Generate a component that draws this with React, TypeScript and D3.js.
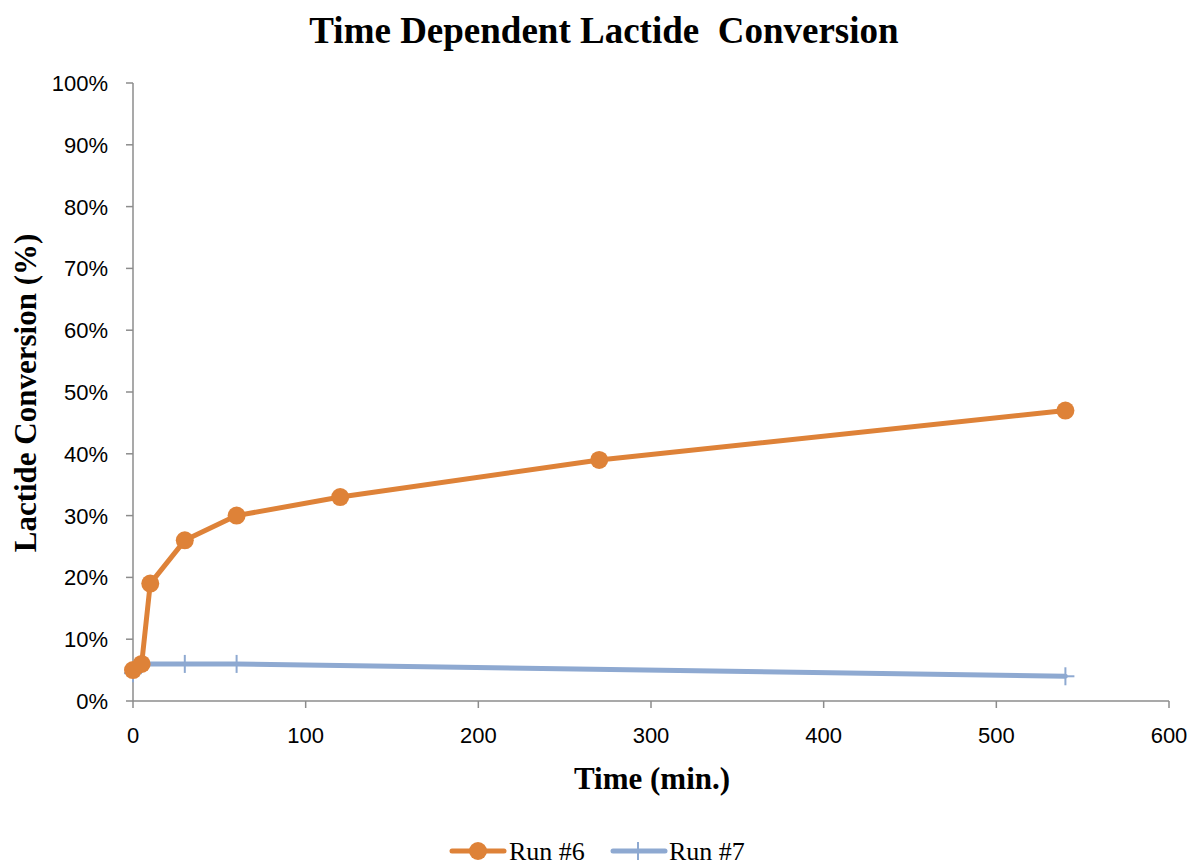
import React from "react";
import * as d3 from "d3";

const run6Time = [0, 5, 10, 30, 60, 120, 270, 540];
const run6Conv = [5, 6, 19, 26, 30, 33, 39, 47];
const run7Time = [0, 5, 30, 60, 540];
const run7Conv = [4.5, 6, 6, 6, 4];
const xTicks = [0, 100, 200, 300, 400, 500, 600];
const yTicks = [0, 10, 20, 30, 40, 50, 60, 70, 80, 90, 100];

const W = 1194, H = 863;
const ORANGE = "#DE8238";
const BLUE = "#8EA9D1";
const AXIS = "#8c8c8c";

export default function App() {
  const x = d3.scaleLinear().domain([0, 600]).range([133, 1169]);
  const y = d3.scaleLinear().domain([0, 100]).range([701, 83]);
  const line = d3.line<[number, number]>().x(d => x(d[0])).y(d => y(d[1]));
  const d6 = run6Time.map((t, i) => [t, run6Conv[i]] as [number, number]);
  const d7 = run7Time.map((t, i) => [t, run7Conv[i]] as [number, number]);
  const tickFont = "'Liberation Sans', Arial, sans-serif";
  const serif = "'Liberation Serif', 'Times New Roman', serif";
  return (
    <svg width={W} height={H} style={{ position: "absolute", left: 0, top: 0, background: "#fff" }}>
      <rect width={W} height={H} fill="#fff" />
      <text x={604} y={43} textAnchor="middle" fontFamily={serif} fontWeight="bold" fontSize={37} style={{ whiteSpace: "pre" }}>
        {"Time Dependent Lactide  Conversion"}
      </text>
      {/* Y axis */}
      <line x1={x(0)} x2={x(0)} y1={y(0)} y2={y(100)} stroke={AXIS} strokeWidth={1.5} />
      {yTicks.map(t => (
        <g key={"y" + t}>
          <line x1={x(0) - 7} x2={x(0)} y1={y(t)} y2={y(t)} stroke={AXIS} strokeWidth={1.5} />
          <text x={108} y={y(t) + 8} textAnchor="end" fontFamily={tickFont} fontSize={22}>{t}%</text>
        </g>
      ))}
      {/* X axis */}
      <line x1={x(0)} x2={x(600)} y1={y(0)} y2={y(0)} stroke={AXIS} strokeWidth={1.5} />
      {xTicks.map(t => (
        <g key={"x" + t}>
          <line x1={x(t)} x2={x(t)} y1={y(0)} y2={y(0) + 7} stroke={AXIS} strokeWidth={1.5} />
          <text x={x(t)} y={743} textAnchor="middle" fontFamily={tickFont} fontSize={22}>{t}</text>
        </g>
      ))}
      <text x={652} y={789} textAnchor="middle" fontFamily={serif} fontWeight="bold" fontSize={31}>Time (min.)</text>
      <text transform={`translate(36,${393}) rotate(-90)`} textAnchor="middle" fontFamily={serif} fontWeight="bold" fontSize={31}>
        Lactide Conversion (%)
      </text>
      {/* Run 7 */}
      <path d={line(d7) || ""} fill="none" stroke={BLUE} strokeWidth={5} strokeLinejoin="round" strokeLinecap="round" />
      {d7.map((p, i) => (
        <g key={"m7" + i} stroke={BLUE} strokeWidth={2}>
          <line x1={x(p[0])} x2={x(p[0])} y1={y(p[1]) - 9} y2={y(p[1]) + 9} />
          <line x1={x(p[0]) - 9} x2={x(p[0]) + 9} y1={y(p[1])} y2={y(p[1])} />
        </g>
      ))}
      {/* Run 6 */}
      <path d={line(d6) || ""} fill="none" stroke={ORANGE} strokeWidth={5} strokeLinejoin="round" strokeLinecap="round" />
      {d6.map((p, i) => (
        <circle key={"m6" + i} cx={x(p[0])} cy={y(p[1])} r={9} fill={ORANGE} />
      ))}
      {/* Legend */}
      <line x1={452} x2={504} y1={851} y2={851} stroke={ORANGE} strokeWidth={5} strokeLinecap="round" />
      <circle cx={478} cy={851} r={9} fill={ORANGE} />
      <text x={509} y={860} fontFamily={serif} fontSize={26}>Run #6</text>
      <g stroke={BLUE}>
        <line x1={613} x2={665} y1={851} y2={851} strokeWidth={5} strokeLinecap="round" />
        <line x1={638} x2={638} y1={842} y2={860} strokeWidth={2} />
      </g>
      <text x={669} y={860} fontFamily={serif} fontSize={26}>Run #7</text>
    </svg>
  );
}
